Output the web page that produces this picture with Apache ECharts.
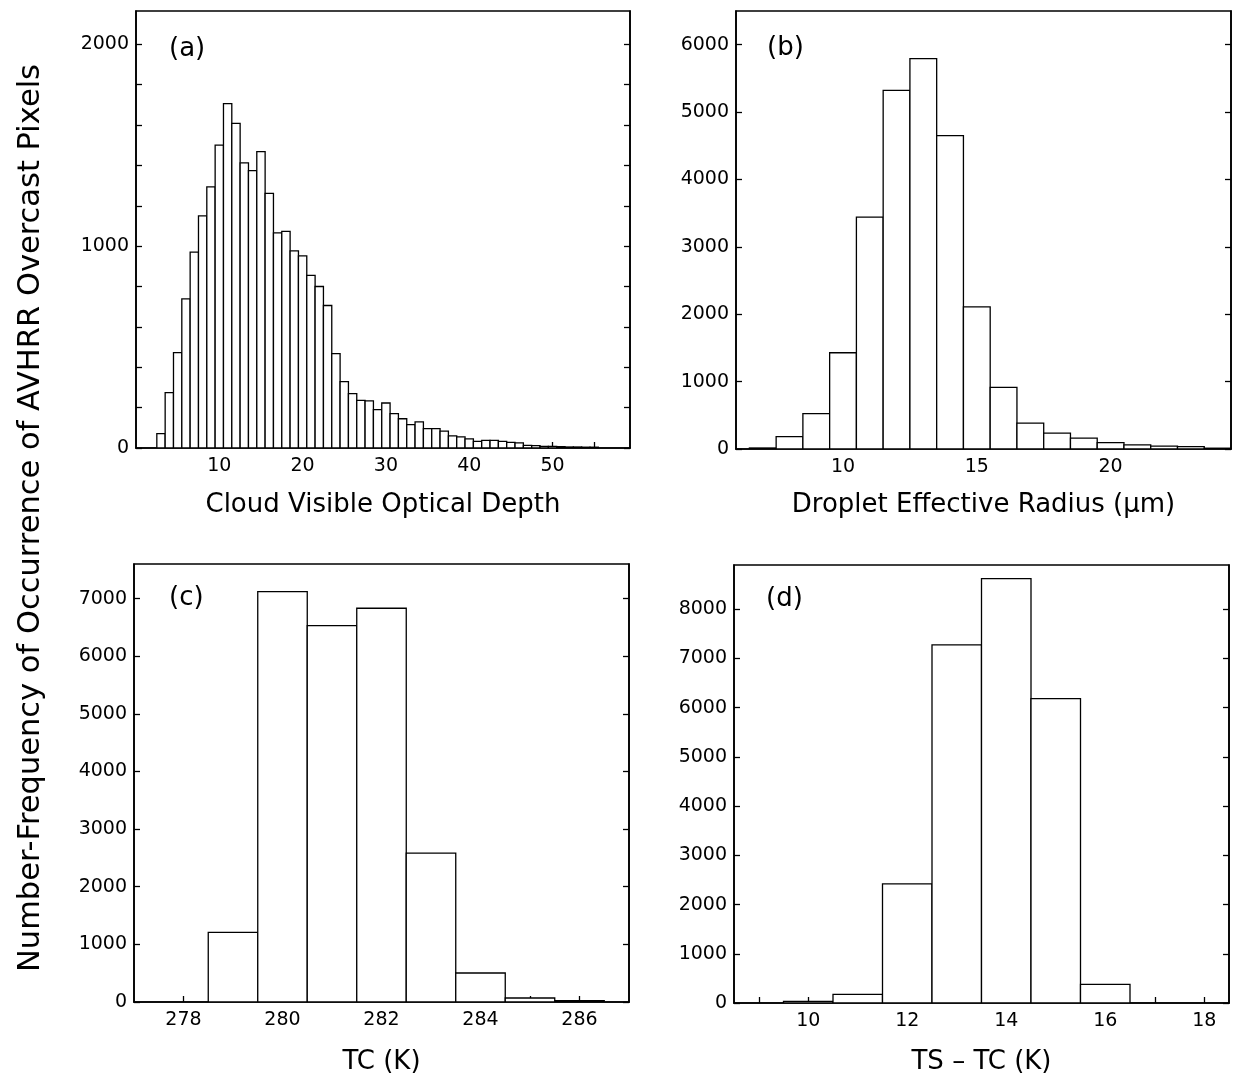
<!DOCTYPE html>
<html>
<head>
<meta charset="utf-8">
<script src="https://cdn.jsdelivr.net/npm/echarts@6/dist/echarts.min.js"></script>
<style>
html,body{margin:0;padding:0;background:#fff;}
#chart{width:1233px;height:1078px;}
</style>
</head>
<body>
<div id="chart"></div>
<script>
// ---- Data ----
// (a) Cloud visible optical depth, bins of width 1 centred on integers
const tauBins = [3,4,5,6,7,8,9,10,11,12,13,14,15,16,17,18,19,20,21,22,23,24,25,26,27,28,29,30,31,32,33,34,35,36,37,38,39,40,41,42,43,44,45,46,47,48,49,50,51,52,53,54,55];
const tauCounts = [71,274,473,739,970,1150,1294,1501,1706,1608,1413,1374,1468,1261,1066,1073,977,952,855,800,706,468,329,269,236,233,190,223,170,145,116,129,96,96,84,60,55,45,33,38,38,33,28,25,13,12,8,8,7,5,5,4,4];
// (b) Droplet effective radius (um)
const reBins = [7,8,9,10,11,12,13,14,15,16,17,18,19,20,21,22,23,24];
const reCounts = [15,184,526,1428,3442,5322,5793,4652,2108,915,385,235,160,95,62,42,35,12];
// (c) TC (K)
const tcBins = [279,280,281,282,283,284,285,286];
const tcCounts = [1208,7121,6532,6832,2584,503,69,23];
// (d) TS - TC (K)
const dtBins = [10,11,12,13,14,15,16];
const dtCounts = [35,176,2419,7276,8625,6186,379];

// tick / label values
const aXLabels = [10,20,30,40,50];
const aXTicks = [5,10,15,20,25,30,35,40,45,50,55];
const aYLabels = [0,1000,2000];
const aYTicks = [0,200,400,600,800,1000,1200,1400,1600,1800,2000];
const bXLabels = [10,15,20];
const bYLabels = [0,1000,2000,3000,4000,5000,6000];
const cXLabels = [278,280,282,284,286];
const cXTicks = [278,279,280,281,282,283,284,285,286];
const cYLabels = [0,1000,2000,3000,4000,5000,6000,7000];
const dXLabels = [10,12,14,16,18];
const dXTicks = [9,10,11,12,13,14,15,16,17,18];
const dYLabels = [0,1000,2000,3000,4000,5000,6000,7000,8000];

const titles = {
  a: 'Cloud Visible Optical Depth',
  b: 'Droplet Effective Radius (\u03bcm)',
  c: 'TC (K)',
  d: 'TS \u2013 TC (K)',
  y: 'Number-Frequency of Occurrence of AVHRR Overcast Pixels'
};

const FONT = "'DejaVu Sans', 'Liberation Sans', Arial, sans-serif";
const LW = 1.6;

const grids = [
  {left:136, top:11, width:494, height:437},
  {left:736, top:11, width:495, height:438},
  {left:134, top:564, width:495, height:438},
  {left:734, top:565, width:495, height:438}
];

const plain = v => String(v);

function xAx(gi, min, max, labels, ticks, name, gap){
  return {
    type:'value', gridIndex:gi, min:min, max:max, position:'bottom',
    name:name, nameLocation:'middle', nameGap:gap,
    nameTextStyle:{fontFamily:FONT, fontSize:26, color:'#000'},
    axisLine:{show:true, onZero:false, lineStyle:{color:'#000', width:LW}},
    axisTick:{show:true, inside:true, length:6, customValues:ticks, lineStyle:{color:'#000', width:1.3}},
    axisLabel:{show:true, customValues:labels, formatter:plain, margin:9, fontFamily:FONT, fontSize:19, color:'#000'},
    splitLine:{show:false}
  };
}
function yAx(gi, max, labels, ticks, right){
  return {
    type:'value', gridIndex:gi, min:0, max:max, position: right ? 'right' : 'left',
    axisLine:{show:true, lineStyle:{color:'#000', width:LW}},
    axisTick:{show:true, inside:true, length:6, customValues:ticks, lineStyle:{color:'#000', width:1.3}},
    axisLabel:{show:!right, customValues:labels, formatter:plain, margin:7, fontFamily:FONT, fontSize:19, color:'#000'},
    splitLine:{show:false}
  };
}

function histSeries(gi, bins, counts){
  return {
    type:'custom', xAxisIndex:gi, yAxisIndex:gi*2,
    data: bins.map((b,i)=>[b, counts[i]]),
    clip:true,
    renderItem:function(params, api){
      const x = api.value(0), v = api.value(1);
      const p0 = api.coord([x-0.5, 0]);
      const p1 = api.coord([x+0.5, v]);
      return {
        type:'rect',
        shape:{x:p0[0], y:p1[1], width:p1[0]-p0[0], height:p0[1]-p1[1]},
        style:{fill:'#fff', stroke:'#000', lineWidth:1.3}
      };
    }
  };
}

const option = {
  backgroundColor:'#fff',
  animation:false,
  grid: grids.map(g=>Object.assign({show:true, borderColor:'#000', borderWidth:LW, backgroundColor:'transparent', containLabel:false}, g)),
  xAxis:[
    xAx(0, 0, 59.3, aXLabels, aXTicks, titles.a, 44),
    xAx(1, 6, 24.5, bXLabels, bXLabels, titles.b, 43),
    xAx(2, 277, 287, cXLabels, cXTicks, titles.c, 47),
    xAx(3, 8.5, 18.5, dXLabels, dXTicks, titles.d, 46)
  ],
  yAxis:[
    yAx(0, 2165, aYLabels, aYTicks, false), yAx(0, 2165, aYLabels, aYTicks, true),
    yAx(1, 6500, bYLabels, bYLabels, false), yAx(1, 6500, bYLabels, bYLabels, true),
    yAx(2, 7600, cYLabels, cYLabels, false), yAx(2, 7600, cYLabels, cYLabels, true),
    yAx(3, 8900, dYLabels, dYLabels, false), yAx(3, 8900, dYLabels, dYLabels, true)
  ],
  series:[
    histSeries(0, tauBins, tauCounts),
    histSeries(1, reBins, reCounts),
    histSeries(2, tcBins, tcCounts),
    histSeries(3, dtBins, dtCounts)
  ],
  graphic:[
    {type:'text', left:169, top:36, style:{text:'(a)', font:'26px '+FONT, fill:'#000'}},
    {type:'text', left:767, top:35, style:{text:'(b)', font:'26px '+FONT, fill:'#000'}},
    {type:'text', left:169, top:585, style:{text:'(c)', font:'26px '+FONT, fill:'#000'}},
    {type:'text', left:766, top:586, style:{text:'(d)', font:'26px '+FONT, fill:'#000'}},
    {type:'text', x:31, y:518, rotation:Math.PI/2,
     style:{text:titles.y, font:'30.5px '+FONT, fill:'#000', align:'center', verticalAlign:'middle'}}
  ]
};

const chart = echarts.init(document.getElementById('chart'), null, {renderer:'canvas'});
chart.setOption(option);
</script>
</body>
</html>
